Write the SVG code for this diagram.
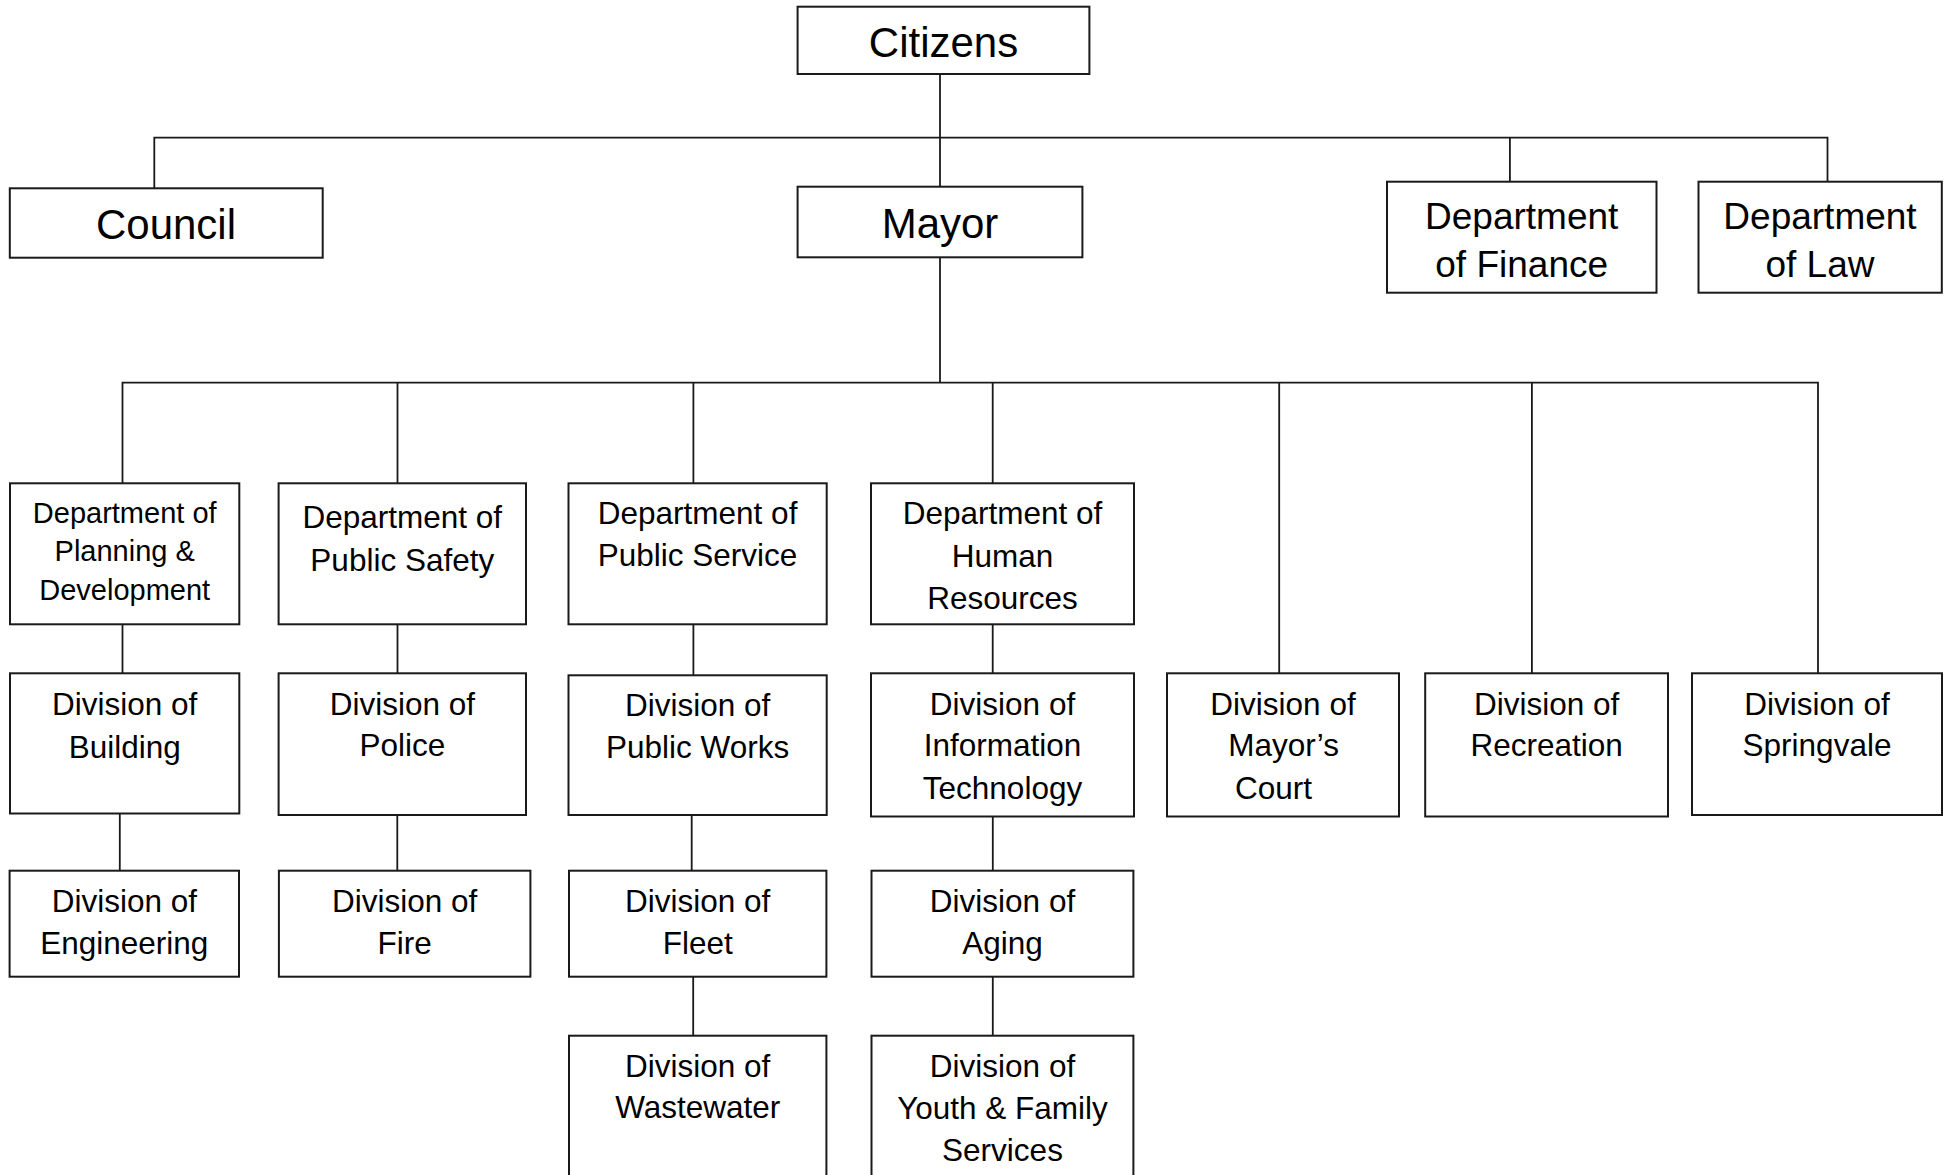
<svg xmlns="http://www.w3.org/2000/svg" width="1954" height="1175" viewBox="0 0 1954 1175">
<style>
.box{fill:#fff;stroke:#1a1a1a;stroke-width:2}
.ln{stroke:#1a1a1a;stroke-width:1.8;fill:none}
text{font-family:"Liberation Sans",Arial,sans-serif;fill:#000;text-anchor:middle}
.t42{font-size:42px}
.t37{font-size:37px}
.t31{font-size:31.5px}
.t29{font-size:29px}
</style>
<rect width="1954" height="1175" fill="#fff"/>
<g id="connectors">
<path class="ln" d="M940 74V186.7"/>
<path class="ln" d="M154.3 188.3V137.7H1827.5V181.7M1509.9 137.7V181.7"/>
<path class="ln" d="M940 257.3V382.7"/>
<path class="ln" d="M122.5 483.3V382.7H1818V673.3"/>
<path class="ln" d="M397.5 382.7V483.3M693.4 382.7V483.3M992.7 382.7V483.3M1279.2 382.7V673.3M1531.9 382.7V673.3"/>
<path class="ln" d="M122.5 624.3V673.3M397.5 624.3V673.3M693.4 624.3V675.3M992.7 624.3V673.3"/>
<path class="ln" d="M119.8 813.5V870.7M397.3 815V870.7M691.7 815V870.7M992.8 816.5V870.7"/>
<path class="ln" d="M693.2 976.7V1035.7M992.8 976.7V1035.7"/>
</g>
<g id="citizens"><rect class="box" x="797.6" y="6.7" width="291.8" height="67.3"/><text class="t42" x="943.5" y="57">Citizens</text></g>
<g id="council"><rect class="box" x="9.8" y="188.3" width="312.9" height="69.4"/><text class="t42" x="166" y="239">Council</text></g>
<g id="mayor"><rect class="box" x="797.6" y="186.7" width="284.8" height="70.6"/><text class="t42" x="940" y="237.5">Mayor</text></g>
<g id="finance"><rect class="box" x="1387" y="181.7" width="269.5" height="111"/><text class="t37" x="1521.7" y="228.8">Department</text><text class="t37" x="1521.7" y="277.4">of Finance</text></g>
<g id="law"><rect class="box" x="1698.5" y="181.7" width="243.3" height="111"/><text class="t37" x="1820" y="228.8">Department</text><text class="t37" x="1820" y="277.4">of Law</text></g>
<g id="planning"><rect class="box" x="10" y="483.3" width="229.3" height="141"/><text class="t29" x="124.7" y="522.5">Department of</text><text class="t29" x="124.7" y="561">Planning &amp;</text><text class="t29" x="124.7" y="599.7">Development</text></g>
<g id="safety"><rect class="box" x="278.6" y="483.3" width="247.4" height="141"/><text class="t31" x="402.3" y="528.2">Department of</text><text class="t31" x="402.3" y="570.5">Public Safety</text></g>
<g id="service"><rect class="box" x="568.5" y="483.3" width="258.2" height="141"/><text class="t31" x="697.6" y="524.4">Department of</text><text class="t31" x="697.6" y="565.6">Public Service</text></g>
<g id="hr"><rect class="box" x="871" y="483.3" width="263" height="141"/><text class="t31" x="1002.5" y="524.4">Department of</text><text class="t31" x="1002.5" y="566.8">Human</text><text class="t31" x="1002.5" y="609.2">Resources</text></g>
<g id="building"><rect class="box" x="10" y="673.3" width="229.3" height="140.2"/><text class="t31" x="124.7" y="715.1">Division of</text><text class="t31" x="124.7" y="757.5">Building</text></g>
<g id="police"><rect class="box" x="278.6" y="673.3" width="247.4" height="141.7"/><text class="t31" x="402.3" y="715.1">Division of</text><text class="t31" x="402.3" y="756.2">Police</text></g>
<g id="works"><rect class="box" x="568.5" y="675.3" width="258.2" height="139.7"/><text class="t31" x="697.6" y="716.4">Division of</text><text class="t31" x="697.6" y="757.5">Public Works</text></g>
<g id="it"><rect class="box" x="871" y="673.3" width="263" height="143.2"/><text class="t31" x="1002.5" y="715.1">Division of</text><text class="t31" x="1002.5" y="756.2">Information</text><text class="t31" x="1002.5" y="798.6">Technology</text></g>
<g id="court"><rect class="box" x="1167" y="673.3" width="232" height="143.2"/><text class="t31" x="1283" y="715.1">Division of</text><text class="t31" x="1283.6" y="756.2">Mayor’s</text><text class="t31" x="1273.6" y="798.6">Court</text></g>
<g id="recreation"><rect class="box" x="1425.2" y="673.3" width="242.8" height="143.2"/><text class="t31" x="1546.6" y="715.1">Division of</text><text class="t31" x="1546.6" y="756.2">Recreation</text></g>
<g id="springvale"><rect class="box" x="1692" y="673.3" width="250" height="141.7"/><text class="t31" x="1817" y="715.1">Division of</text><text class="t31" x="1817" y="756.2">Springvale</text></g>
<g id="engineering"><rect class="box" x="9.6" y="870.7" width="229.4" height="106"/><text class="t31" x="124.3" y="912">Division of</text><text class="t31" x="124.3" y="954.4">Engineering</text></g>
<g id="fire"><rect class="box" x="278.9" y="870.7" width="251.5" height="106"/><text class="t31" x="404.7" y="912">Division of</text><text class="t31" x="404.7" y="954.4">Fire</text></g>
<g id="fleet"><rect class="box" x="569" y="870.7" width="257.4" height="106"/><text class="t31" x="697.7" y="912">Division of</text><text class="t31" x="697.7" y="954.4">Fleet</text></g>
<g id="aging"><rect class="box" x="871.5" y="870.7" width="261.9" height="106"/><text class="t31" x="1002.5" y="912">Division of</text><text class="t31" x="1002.5" y="954.4">Aging</text></g>
<g id="wastewater"><rect class="box" x="569" y="1035.7" width="257.4" height="160"/><text class="t31" x="697.7" y="1076.5">Division of</text><text class="t31" x="697.7" y="1117.6">Wastewater</text></g>
<g id="youth"><rect class="box" x="871.5" y="1035.7" width="261.9" height="160"/><text class="t31" x="1002.5" y="1076.5">Division of</text><text class="t31" x="1002.5" y="1118.9">Youth &amp; Family</text><text class="t31" x="1002.5" y="1161.3">Services</text></g>
</svg>
